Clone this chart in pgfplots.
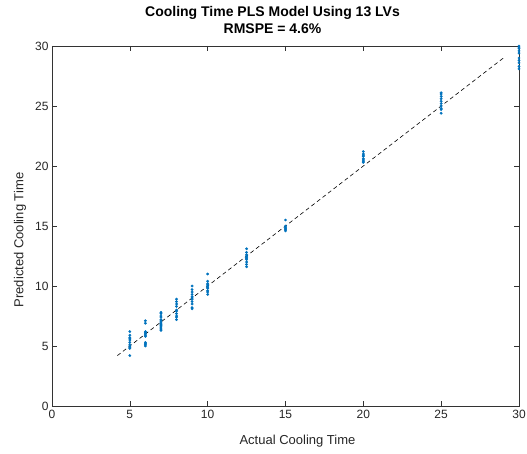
\documentclass[border=0pt]{standalone}
\usepackage{pgfplots}
\pgfplotsset{compat=1.18}
\usepackage{fontspec}
\setmainfont{Liberation Sans}
\definecolor{mblue}{rgb}{0,0.447,0.741}
\begin{document}
\begin{tikzpicture}
\useasboundingbox (-52pt,-48pt) rectangle (475pt,406pt);
\begin{axis}[
  at={(0,0)}, anchor=south west,
  scale only axis,
  width=467pt, height=360pt,
  xmin=0, xmax=30, ymin=0, ymax=30,
  xtick={0,5,...,30}, ytick={0,5,...,30},
  tick align=inside,
  major tick length=5pt,
  tick style={black!80, line width=0.5pt},
  axis line style={black!80, line width=0.5pt},
  /pgf/number format/assume math mode=true,
  ticklabel style={font=\fontsize{12}{14}\selectfont, text=black!85},
  xticklabel style={yshift=-1pt},
  xlabel={Actual Cooling Time},
  ylabel={Predicted Cooling Time},
  label style={font=\fontsize{13}{15}\selectfont, text=black!85},
  xlabel style={at={([yshift=-35pt,xshift=12pt]axis description cs:0.5,0)}, anchor=center},
  ylabel style={at={([xshift=-32pt,yshift=-14pt]axis description cs:0,0.5)}, anchor=center},
  title={Cooling Time PLS Model Using 13 LVs\\RMSPE = 4.6\%},
  title style={font=\bfseries\fontsize{14}{17}\selectfont, align=center, at={([yshift=20pt,xshift=-13pt]axis description cs:0.5,1)}, anchor=center},
  clip=false,
]
\addplot[black, dashed, dash pattern=on 4pt off 3pt, line width=0.6pt] coordinates {(4.2,4.2) (29,29)};
\addplot[only marks, mark=*, mark size=1.2pt, color=mblue] coordinates {
(5,6.2) (5,5.9) (5,5.7) (5,5.6) (5,5.5) (5,5.3) (5,5.1) (5,5.0) (5,4.9) (5,4.8) (5,4.2)
(6,7.1) (6,6.9) (6,6.2) (6,6.1) (6,6.0) (6,5.9) (6,5.8) (6,5.3) (6,5.2) (6,5.1) (6,5.0)
(7,7.8) (7,7.7) (7,7.5) (7,7.4) (7,7.2) (7,7.1) (7,7.0) (7,6.9) (7,6.8) (7,6.7) (7,6.6) (7,6.5) (7,6.4) (7,6.3)
(8,8.9) (8,8.7) (8,8.5) (8,8.3) (8,8.0) (8,7.9) (8,7.7) (8,7.5) (8,7.4) (8,7.2)
(9,10.0) (9,9.7) (9,9.5) (9,9.3) (9,9.1) (9,9.0) (9,8.9) (9,8.7) (9,8.5) (9,8.2) (9,8.1)
(10,11.0) (10,10.4) (10,10.2) (10,10.1) (10,10.0) (10,9.9) (10,9.8) (10,9.6) (10,9.5) (10,9.3)
(12.5,13.1) (12.5,12.8) (12.5,12.6) (12.5,12.5) (12.5,12.4) (12.5,12.3) (12.5,12.2) (12.5,12.0) (12.5,11.8) (12.5,11.6)
(15,15.5) (15,15.0) (15,14.9) (15,14.8) (15,14.7) (15,14.6)
(20,21.2) (20,21.0) (20,20.9) (20,20.8) (20,20.6) (20,20.5) (20,20.4) (20,20.3)
(25,26.1) (25,26.0) (25,25.8) (25,25.6) (25,25.4) (25,25.2) (25,25.0) (25,24.8) (25,24.7) (25,24.4)
(30,30.0) (30,29.9) (30,29.8) (30,29.6) (30,29.4) (30,29.0) (30,28.8) (30,28.6) (30,28.3) (30,28.1)
};
\end{axis}
\end{tikzpicture}
\end{document}
